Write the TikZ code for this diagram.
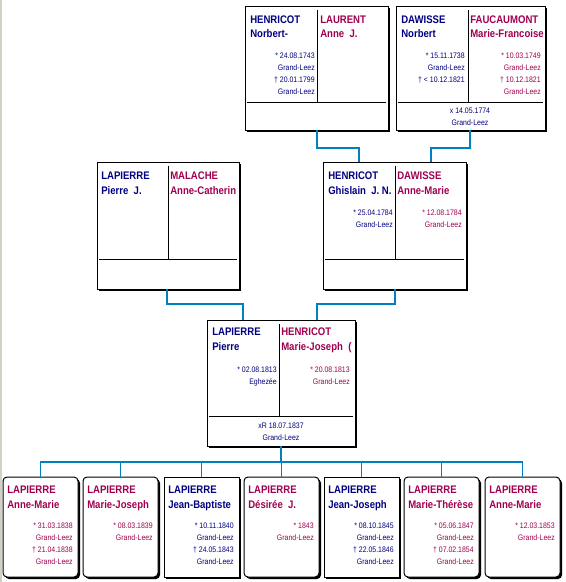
\documentclass[tikz,border=0pt]{standalone}
\usepackage{fontspec}
\setmainfont{Liberation Sans}[FakeStretch=0.87]
\usetikzlibrary{shadows}
\definecolor{navy}{RGB}{0,0,128}
\definecolor{fem}{RGB}{160,0,80}
\definecolor{linkc}{RGB}{0,128,192}
\definecolor{strip}{RGB}{212,208,200}
\newcommand\fambox[7]{%
 \node[pbox, minimum width=#4*0.75pt, minimum height=#5*0.75pt] (#1) at (#2,#3) {};
 \draw[divl] (#6,#3+4) -- (#6,#7);
 \draw[divl] (#2+2,#7) -- (#2+#4-2,#7);}
\newcommand\datelist[5]{%
 \foreach \t [count=\i] in {#5} {\node[dt,#4] (#1\i) at (#2,#3+12*\i-12) {\t};}}
\newcommand\kid[5]{%
 \node[#3, minimum width=75*0.75pt, minimum height=100*0.75pt] (#1) at (#2,477) {};
 \node[nm,#4] (#1s) at (#2+4,493) {LAPIERRE};
 \node[nm,#4] (#1g) at (#2+4,508) {#5};}
\begin{document}
\begin{tikzpicture}[x=0.75pt,y=-0.75pt,
 pbox/.style={draw=black,line width=0.75pt,fill=white,inner sep=0,outer sep=0,anchor=north west,
   drop shadow={opacity=1,fill=black,shadow xshift=1.5pt,shadow yshift=-1.5pt}},
 fembox/.style={pbox,rounded corners=3pt},
 malbox/.style={pbox},
 divl/.style={line width=0.75pt},
 link/.style={draw=linkc,line width=1.2pt},
 nm/.style={anchor=base west,inner sep=0,font=\bfseries\fontsize{8.25}{10}\selectfont},
 dt/.style={anchor=base east,inner sep=0,font=\fontsize{6}{7}\selectfont},
 mc/.style={anchor=base,inner sep=0,font=\fontsize{6}{7}\selectfont},
 bl/.style={text=navy}, rd/.style={text=fem}]
\useasboundingbox (0,0) rectangle (566,582);
\fill[white] (0,0) rectangle (566,582);
\fill[strip] (0,0) rectangle (2,582);

% ---- top boxes
\fambox{A}{245}{6}{143}{124}{317}{102}
\node[nm,bl] (A1n) at (250,23) {HENRICOT};
\node[nm,bl] (A1g) at (250,37) {Norbert-};
\node[nm,rd] (A2n) at (320,23) {LAURENT};
\node[nm,rd] (A2g) at (320,37) {Anne\ \ J.};
\datelist{Ad}{315}{58}{bl}{* 24.08.1743,Grand-Leez,† 20.01.1799,Grand-Leez}

\fambox{B}{396}{6}{149}{124}{468}{102}
\node[nm,bl] (B1n) at (401,23) {DAWISSE};
\node[nm,bl] (B1g) at (401,37) {Norbert};
\node[nm,rd] (B2n) at (470,23) {FAUCAUMONT};
\node[nm,rd] (B2g) at (470,37) {Marie-Francoise};
\datelist{Bd}{465}{58}{bl}{* 15.11.1738,Grand-Leez,† < 10.12.1821}
\datelist{Be}{541}{58}{rd}{* 10.03.1749,Grand-Leez,† 10.12.1821,Grand-Leez}
\node[mc,bl] (Bm1) at (470,113) {x 14.05.1774};
\node[mc,bl] (Bm2) at (470,125) {Grand-Leez};

% ---- middle boxes
\fambox{C}{97}{162}{142}{127}{168}{259}
\node[nm,bl] (C1n) at (101,179) {LAPIERRE};
\node[nm,bl] (C1g) at (101,194) {Pierre\ \ J.};
\node[nm,rd] (C2n) at (170,179) {MALACHE};
\node[nm,rd] (C2g) at (170,194) {Anne-Catherin};

\fambox{D}{323}{162}{143}{127}{395}{259}
\node[nm,bl] (D1n) at (328,179) {HENRICOT};
\node[nm,bl] (D1g) at (328,194) {Ghislain\ \ J. N.};
\node[nm,rd] (D2n) at (397,179) {DAWISSE};
\node[nm,rd] (D2g) at (397,194) {Anne-Marie};
\datelist{Dd}{393}{215}{bl}{* 25.04.1784,Grand-Leez}
\datelist{De}{462}{215}{rd}{* 12.08.1784,Grand-Leez}

% ---- centre box
\fambox{E}{207}{320}{148}{126}{279}{416}
\node[nm,bl] (E1n) at (212,335) {LAPIERRE};
\node[nm,bl] (E1g) at (212,350) {Pierre};
\node[nm,rd] (E2n) at (281,335) {HENRICOT};
\node[nm,rd] (E2g) at (281,350) {Marie-Joseph\ \ (};
\datelist{Ed}{277}{372}{bl}{* 02.08.1813,Eghezée}
\datelist{Ee}{350}{372}{rd}{* 20.08.1813,Grand-Leez}
\node[mc,bl] (Em1) at (281,428) {xR 18.07.1837};
\node[mc,bl] (Em2) at (281,440) {Grand-Leez};

% ---- children
\kid{K1}{3}{fembox}{rd}{Anne-Marie}
\datelist{K1d}{73}{528}{rd}{* 31.03.1838,Grand-Leez,† 21.04.1838,Grand-Leez}
\kid{K2}{83}{fembox}{rd}{Marie-Joseph}
\datelist{K2d}{153}{528}{rd}{* 08.03.1839,Grand-Leez}
\kid{K3}{164}{malbox}{bl}{Jean-Baptiste}
\datelist{K3d}{234}{528}{bl}{* 10.11.1840,Grand-Leez,† 24.05.1843,Grand-Leez}
\kid{K4}{244}{fembox}{rd}{Désirée\ \ J.}
\datelist{K4d}{314}{528}{rd}{* 1843,Grand-Leez}
\kid{K5}{324}{malbox}{bl}{Jean-Joseph}
\datelist{K5d}{394}{528}{bl}{* 08.10.1845,Grand-Leez,† 22.05.1846,Grand-Leez}
\kid{K6}{404}{fembox}{rd}{Marie-Thérèse}
\datelist{K6d}{474}{528}{rd}{* 05.06.1847,Grand-Leez,† 07.02.1854,Grand-Leez}
\kid{K7}{485}{fembox}{rd}{Anne-Marie}
\datelist{K7d}{555}{528}{rd}{* 12.03.1853,Grand-Leez}

% ---- connectors
\coordinate (Ao) at (317,130);
\coordinate (Bo) at (470,130);
\coordinate (Di1) at (359,162);
\coordinate (Di2) at (431,162);
\coordinate (Co) at (167,289);
\coordinate (Do) at (395,289);
\coordinate (Ei1) at (243,320);
\coordinate (Ei2) at (317,320);
\coordinate (Eo) at (281,446);
\coordinate (bus) at (0,462);
\draw[link] (Ao) -- ++(0,18) -| (Di1);
\draw[link] (Bo) -- ++(0,18) -| (Di2);
\draw[link] (Co) -- ++(0,15) -| (Ei1);
\draw[link] (Do) -- ++(0,15) -| (Ei2);
\draw[link] (Eo) -- (Eo |- bus);
\draw[link] (K1.north) |- (bus -| K7.north) -- (K7.north);
\foreach \k in {K2,K3,K4,K5,K6}
  \draw[link] (\k.north) -- (\k.north |- bus);
\end{tikzpicture}
\end{document}
